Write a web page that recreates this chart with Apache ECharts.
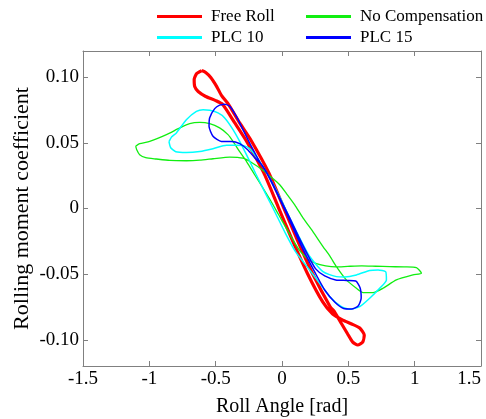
<!DOCTYPE html>
<html>
<head>
<meta charset="utf-8">
<script src="https://cdn.jsdelivr.net/npm/echarts@6/dist/echarts.min.js"></script>
<style>
  html, body { margin: 0; padding: 0; background: #fff; }
  #chart { width: 486px; height: 419px; }
</style>
</head>
<body>
<div id="chart"></div>
<script>
// roll angle [rad], rolling moment coefficient -- closed hysteresis loops
var freeRoll = [
  [-0.605, 0.1051], [-0.643, 0.1028], [-0.662, 0.0982], [-0.658, 0.0929], [-0.632, 0.0891],
  [-0.575, 0.0853], [-0.500, 0.0822], [-0.447, 0.0792], [-0.357, 0.0654], [-0.274, 0.0524],
  [-0.138, 0.0273], [-0.029, 0.0013], [0.077, -0.0239], [0.190, -0.0491], [0.307, -0.0712],
  [0.382, -0.0804], [0.458, -0.0850], [0.525, -0.0880], [0.586, -0.0911], [0.620, -0.0964],
  [0.608, -0.1018], [0.571, -0.1040], [0.533, -0.1018], [0.495, -0.0956], [0.450, -0.0880],
  [0.397, -0.0789], [0.363, -0.0748], [0.228, -0.0491], [0.115, -0.0239], [0.009, 0.0015],
  [-0.100, 0.0273], [-0.236, 0.0524], [-0.319, 0.0652], [-0.402, 0.0792], [-0.455, 0.0860],
  [-0.492, 0.0929], [-0.537, 0.0998], [-0.575, 0.1036], [-0.605, 0.1051]
]
var noComp = [
  [-1.103, 0.0475], [-1.073, 0.0494], [-0.997, 0.0511], [-0.871, 0.0563], [-0.771, 0.0614],
  [-0.696, 0.0647], [-0.620, 0.0656], [-0.545, 0.0647], [-0.470, 0.0614], [-0.407, 0.0563],
  [-0.369, 0.0511], [-0.319, 0.0433], [-0.266, 0.0356], [-0.206, 0.0257], [-0.145, 0.0158],
  [-0.085, 0.0059], [-0.025, -0.0048], [0.035, -0.0155], [0.096, -0.0262], [0.141, -0.0331],
  [0.194, -0.0384], [0.254, -0.0418], [0.329, -0.0437], [0.405, -0.0445], [0.495, -0.0441],
  [0.601, -0.0437], [0.706, -0.0440], [0.812, -0.0443], [0.925, -0.0445], [1.013, -0.0450],
  [1.051, -0.0493], [0.987, -0.0506], [0.862, -0.0544], [0.761, -0.0608], [0.686, -0.0641],
  [0.611, -0.0641], [0.561, -0.0608], [0.485, -0.0544], [0.410, -0.0443], [0.360, -0.0361],
  [0.309, -0.0290], [0.234, -0.0178], [0.158, -0.0071], [0.096, 0.0028], [0.035, 0.0112],
  [-0.017, 0.0181], [-0.085, 0.0242], [-0.145, 0.0292], [-0.221, 0.0345], [-0.294, 0.0383],
  [-0.394, 0.0392], [-0.520, 0.0379], [-0.620, 0.0368], [-0.721, 0.0364], [-0.846, 0.0366],
  [-0.947, 0.0377], [-1.027, 0.0387], [-1.073, 0.0410], [-1.095, 0.0448], [-1.103, 0.0475]
]
var plc10 = [
  [-0.852, 0.0509], [-0.831, 0.0547], [-0.796, 0.0576], [-0.721, 0.0677], [-0.645, 0.0740],
  [-0.595, 0.0753], [-0.545, 0.0748], [-0.482, 0.0728], [-0.432, 0.0690], [-0.369, 0.0601],
  [-0.319, 0.0511], [-0.268, 0.0410], [-0.198, 0.0265], [-0.123, 0.0112], [-0.047, -0.0040],
  [0.028, -0.0193], [0.103, -0.0331], [0.184, -0.0437], [0.284, -0.0569], [0.360, -0.0672],
  [0.448, -0.0748], [0.510, -0.0768], [0.586, -0.0748], [0.661, -0.0684], [0.736, -0.0608],
  [0.787, -0.0544], [0.782, -0.0483], [0.724, -0.0468], [0.661, -0.0472], [0.561, -0.0506],
  [0.473, -0.0521], [0.410, -0.0519], [0.309, -0.0481], [0.209, -0.0366], [0.133, -0.0224],
  [0.058, -0.0071], [-0.017, 0.0089], [-0.093, 0.0234], [-0.168, 0.0356], [-0.243, 0.0456],
  [-0.289, 0.0479], [-0.341, 0.0482], [-0.419, 0.0482], [-0.520, 0.0456], [-0.620, 0.0435],
  [-0.721, 0.0427], [-0.801, 0.0433], [-0.839, 0.0463], [-0.852, 0.0509]
]
var plc15 = [
  [-0.432, 0.0795], [-0.394, 0.0779], [-0.344, 0.0702], [-0.294, 0.0601], [-0.231, 0.0473],
  [-0.168, 0.0356], [-0.108, 0.0257], [-0.040, 0.0120], [0.028, -0.0025], [0.103, -0.0193],
  [0.179, -0.0353], [0.246, -0.0483], [0.322, -0.0621], [0.397, -0.0712], [0.465, -0.0762],
  [0.525, -0.0766], [0.574, -0.0743], [0.597, -0.0682], [0.589, -0.0605], [0.556, -0.0552],
  [0.488, -0.0548], [0.405, -0.0544], [0.322, -0.0514], [0.254, -0.0460], [0.194, -0.0353],
  [0.126, -0.0216], [0.058, -0.0071], [-0.017, 0.0082], [-0.093, 0.0234], [-0.153, 0.0334],
  [-0.206, 0.0387], [-0.259, 0.0448], [-0.319, 0.0494], [-0.381, 0.0511], [-0.457, 0.0511],
  [-0.520, 0.0550], [-0.550, 0.0626], [-0.545, 0.0692], [-0.507, 0.0761], [-0.470, 0.0788],
  [-0.432, 0.0795]
]

var xTicks = [-1.5, -1, -0.5, 0, 0.5, 1, 1.5]
var yTicks = [-0.1, -0.05, 0, 0.05, 0.1]

var serif = '"Liberation Serif", "DejaVu Serif", serif'
var boxColor = '#808080'

var chart = echarts.init(document.getElementById('chart'))

// one axis style for the frame (bottom/left carry labels, top/right only ticks)
function frameAxis(extra) {
  var base = {
    type: 'value',
    axisLine: { show: true, onZero: false, lineStyle: { color: boxColor, width: 1 } },
    axisTick: { show: true, inside: true, length: 5, lineStyle: { color: boxColor } },
    splitLine: { show: false },
  }
  return Object.assign(base, extra)
}

var xCommon = { min: xTicks[0], max: xTicks[xTicks.length - 1], interval: 0.5 }
var yCommon = { min: -0.12, max: 0.12 }
var yTickStyle = { show: true, inside: true, length: 5, lineStyle: { color: boxColor }, customValues: yTicks }
var legendText = { fontFamily: serif, fontSize: 17, color: '#000', lineHeight: 17, padding: [0, 0, 0, 4] }

function line(name, data, color, width) {
  return {
    name: name,
    type: 'line',
    data: data,
    symbol: 'none',
    smooth: 0.2,
    lineStyle: { color: color, width: width },
    itemStyle: { color: color },
  }
}

chart.setOption({
  animation: false,
  backgroundColor: '#fff',
  grid: { left: 83, top: 51, width: 398, height: 315, outerBoundsMode: 'none', containLabel: false },
  legend: [
    {
      orient: 'vertical',
      left: 152,
      top: 3,
      itemWidth: 45,
      itemHeight: 3,
      itemGap: 4,
      icon: 'rect',
      data: ['Free Roll', 'PLC 10'],
      textStyle: legendText,
    },
    {
      orient: 'vertical',
      left: 301,
      top: 3,
      itemWidth: 45,
      itemHeight: 3,
      itemGap: 4,
      icon: 'rect',
      data: ['No Compensation', 'PLC 15'],
      textStyle: legendText,
    },
  ],
  xAxis: [
    frameAxis(Object.assign({
      position: 'bottom',
      name: 'Roll Angle [rad]',
      nameLocation: 'middle',
      nameGap: 31,
      nameTextStyle: { fontFamily: serif, fontSize: 20, color: '#000' },
      axisLabel: { fontFamily: serif, fontSize: 19, color: '#000', margin: 4, alignMaxLabel: 'right' },
    }, xCommon)),
    frameAxis(Object.assign({
      position: 'top',
      axisLabel: { show: false },
    }, xCommon)),
  ],
  yAxis: [
    frameAxis(Object.assign({
      position: 'left',
      name: 'Rolling moment coefficient',
      nameLocation: 'middle',
      nameGap: 50,
      nameMoveOverlap: false,
      nameTextStyle: { fontFamily: serif, fontSize: 22, color: '#000' },
      axisTick: yTickStyle,
      axisLabel: {
        fontFamily: serif, fontSize: 19, color: '#000', margin: 4,
        customValues: yTicks,
        formatter: function (v) {
          return Math.abs(v) < 1e-9 ? '0' : v.toFixed(2)
        },
      },
    }, yCommon)),
    frameAxis(Object.assign({
      position: 'right',
      axisTick: yTickStyle,
      axisLabel: { show: false },
    }, yCommon)),
  ],
  series: [
    line('Free Roll', freeRoll, '#ff0000', 3.2),
    line('No Compensation', noComp, '#11ee11', 1.3),
    line('PLC 10', plc10, '#00ffff', 1.5),
    line('PLC 15', plc15, '#0000ff', 1.5),
  ],
})
</script>
</body>
</html>
